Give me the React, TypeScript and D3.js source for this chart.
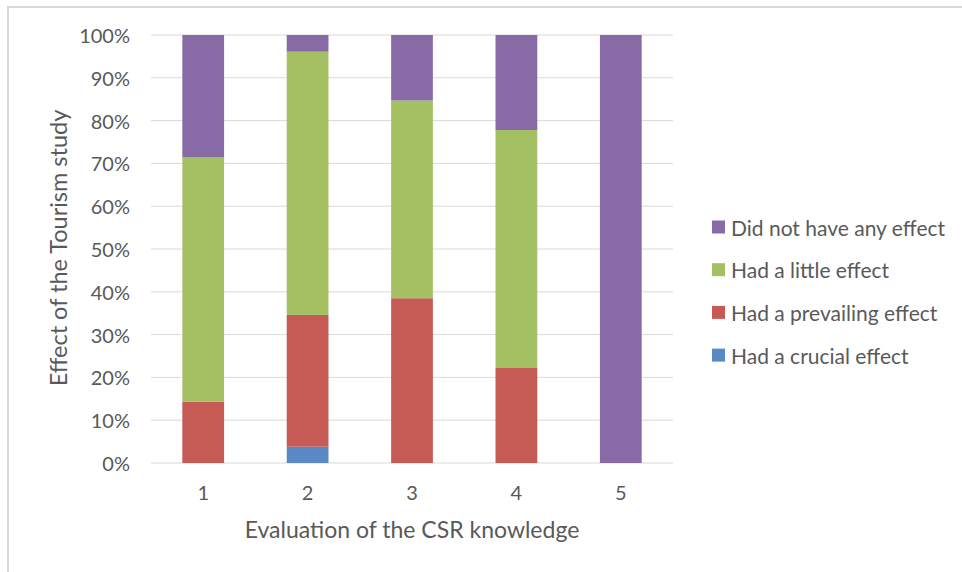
import React from "react";
import * as d3 from "d3";

const categories = ["1", "2", "3", "4", "5"];
const seriesNames = [
  "Had a crucial effect",
  "Had a prevailing effect",
  "Had a little effect",
  "Did not have any effect",
];
const crucial = [0, 3.8, 0, 0, 0];
const prevailing = [14.3, 30.8, 38.5, 22.2, 0];
const little = [57.1, 61.5, 46.2, 55.6, 0];
const noEffect = [28.6, 3.9, 15.3, 22.2, 100];
const colors = ["#5a8ac6", "#c65a55", "#a4c062", "#886ba6"];
const yTicks = [0, 10, 20, 30, 40, 50, 60, 70, 80, 90, 100];
const xTitle = "Evaluation of the CSR knowledge";
const yTitle = "Effect of the Tourism study";

const W = 962;
const H = 572;
const FONT = "Lato, 'Open Sans', sans-serif";
const TEXT = "#595959";

export default function App() {
  const rows = categories.map((c, i) => ({
    cat: c,
    s0: crucial[i],
    s1: prevailing[i],
    s2: little[i],
    s3: noEffect[i],
  }));
  const keys = ["s0", "s1", "s2", "s3"];
  const stacked = d3.stack<any>().keys(keys)(rows);

  const x = d3
    .scaleBand()
    .domain(categories)
    .range([151, 673])
    .paddingInner(0.6)
    .paddingOuter(0.3);
  const y = d3.scaleLinear().domain([0, 100]).range([463, 35]);

  const legendOrder = [3, 2, 1, 0];

  return (
    <svg
      width={W}
      height={H}
      style={{ position: "absolute", left: 0, top: 0, background: "#fff" }}
      fontFamily={FONT}
    >
      <rect x={8} y={7} width={1000} height={700} fill="#fff" stroke="#d9d9d9" strokeWidth={2} />
      {yTicks.map((t) => (
        <g key={t}>
          <line x1={151} x2={673} y1={y(t)} y2={y(t)} stroke="#d9d9d9" strokeWidth={1} />
          <text
            x={130}
            y={y(t)}
            textAnchor="end"
            dominantBaseline="central"
            fontSize={20}
            fill={TEXT}
          >
            {t + "%"}
          </text>
        </g>
      ))}
      {stacked.map((layer, li) => (
        <g key={li} fill={colors[li]}>
          {layer.map((d, i) =>
            d[1] - d[0] > 0 ? (
              <rect
                key={i}
                x={x(categories[i])}
                width={x.bandwidth()}
                y={y(d[1])}
                height={y(d[0]) - y(d[1])}
              />
            ) : null
          )}
        </g>
      ))}
      {categories.map((c) => (
        <text
          key={c}
          x={(x(c) as number) + x.bandwidth() / 2}
          y={492}
          textAnchor="middle"
          dominantBaseline="central"
          fontSize={20}
          fill={TEXT}
        >
          {c}
        </text>
      ))}
      <text
        x={412}
        y={529}
        textAnchor="middle"
        dominantBaseline="central"
        fontSize={23}
        fill={TEXT}
      >
        {xTitle}
      </text>
      <text
        transform={`translate(58,248) rotate(-90)`}
        textAnchor="middle"
        dominantBaseline="central"
        fontSize={23.5}
        fill={TEXT}
      >
        {yTitle}
      </text>
      {legendOrder.map((si, k) => {
        const cy = 227 + k * 42.7;
        return (
          <g key={si}>
            <rect x={712} y={cy - 6.5} width={13} height={13} fill={colors[si]} />
            <text
              x={731}
              y={cy}
              dominantBaseline="central"
              fontSize={21}
              fill={TEXT}
            >
              {seriesNames[si]}
            </text>
          </g>
        );
      })}
    </svg>
  );
}
